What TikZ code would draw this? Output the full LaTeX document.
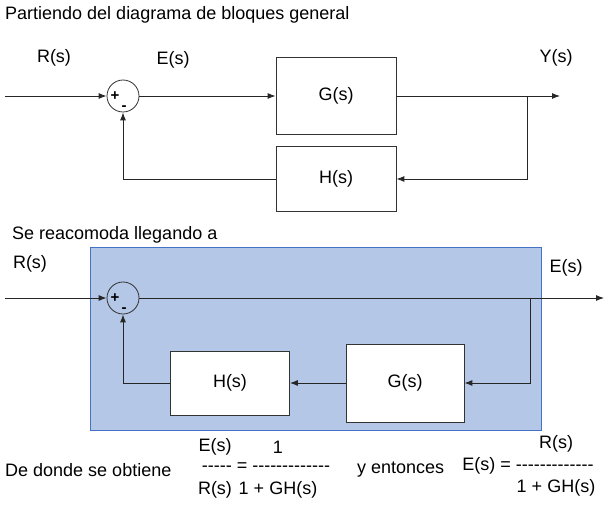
\documentclass[tikz,border=0pt]{standalone}
\usepackage{fontspec}
\setmainfont{Liberation Sans}
\newfontfamily\plainsans{Liberation Sans}
\usetikzlibrary{calc,arrows.meta,positioning}
\definecolor{boxblue}{RGB}{180,199,231}
\definecolor{boxedge}{RGB}{68,114,196}

\begin{document}
\begin{tikzpicture}[x=1pt,y=-1pt,font=\fontsize{18}{21}\selectfont]

\tikzset{block/.style={draw=black!80,fill=white,minimum width=120pt,inner sep=0pt,line width=0.8pt},
summer/.style={draw=black!80,circle,minimum size=32pt,inner sep=0pt,line width=0.8pt},
txt/.style={inner sep=0pt},
sign/.style={inner sep=0pt,font=\fontsize{15}{18}\selectfont\bfseries},
sig/.style={draw=black!85,line width=0.9pt,-{Latex[length=8pt,width=6pt]}}}

\useasboundingbox (0,0) rectangle (616,505);

% Top: general block diagram
\node[txt,anchor=west] (title1) at (5,15) {Partiendo del diagrama de bloques general};
\node[txt] (r1) at (54,58) {R(s)};
\node[txt] (e1) at (173,60) {E(s)};
\node[txt] (y1) at (556,58) {Y(s)};

\coordinate (in1) at (5,96);
\node[summer] (sum1) at (123,96) {};
\node[sign] at ($(sum1)+(-8,0)$) {+};
\node[sign] at ($(sum1)+(1,12)$) {-};
\node[block,minimum height=77pt] (g1) at (336,96) {G(s)};
\node[block,minimum height=65pt] (h1) at (336,179) {H(s)};
\coordinate (out1) at (560,96);
\coordinate (br1) at (527,96);

\draw[sig] (in1) -- (sum1.west);
\draw[sig] (sum1.east) -- (g1.west);
\draw[sig] (g1.east) -- (out1);
\draw[sig] (br1) |- (h1.east);
\draw[sig] (h1.west) -| (sum1.south);

% Bottom: rearranged diagram
\node[txt,anchor=west] (title2) at (12,235) {Se reacomoda llegando a};
\draw[draw=boxedge,fill=boxblue,line width=0.8pt] (90,247) rectangle (541,430);
\node[txt] (r2) at (30,264) {R(s)};
\node[txt] (e2) at (566,268) {E(s)};

\coordinate (in2) at (5,298);
\node[summer] (sum2) at (123,298) {};
\node[sign] at ($(sum2)+(-8,0)$) {+};
\node[sign] at ($(sum2)+(1,12)$) {-};
\node[block,minimum width=118pt,minimum height=78pt] (g2) at (405,383) {G(s)};
\node[block,minimum width=119pt,minimum height=64pt] (h2) at (230,383) {H(s)};
\coordinate (out2) at (604,298);
\coordinate (br2) at (530,298);

\draw[sig] (in2) -- (sum2.west);
\draw[sig] (sum2.east) -- (out2);
\draw[sig] (br2) |- (g2.east);
\draw[sig] (g2.west) -- (h2.east);
\draw[sig] (h2.west) -| (sum2.south);

% Results
\node[txt,anchor=west] (obt) at (5,470) {De donde se obtiene};
\node[txt] (en) at (215,447) {E(s)};
\node[txt] (uno) at (278,447) {1};
\node[txt,font=\fontsize{18}{21}\plainsans] (frac1) at (266,467) {----- = -------------};
\node[txt] (rd) at (215,490) {R(s)};
\node[txt] (den1) at (278,490) {1 + GH(s)};
\node[txt,anchor=west] (ent) at (357,470) {y entonces};
\node[txt,font=\fontsize{18}{21}\plainsans] (frac2) at (528,466) {E(s) = -------------};
\node[txt] (rn) at (556,444) {R(s)};
\node[txt] (den2) at (556,488) {1 + GH(s)};

\end{tikzpicture}
\end{document}
